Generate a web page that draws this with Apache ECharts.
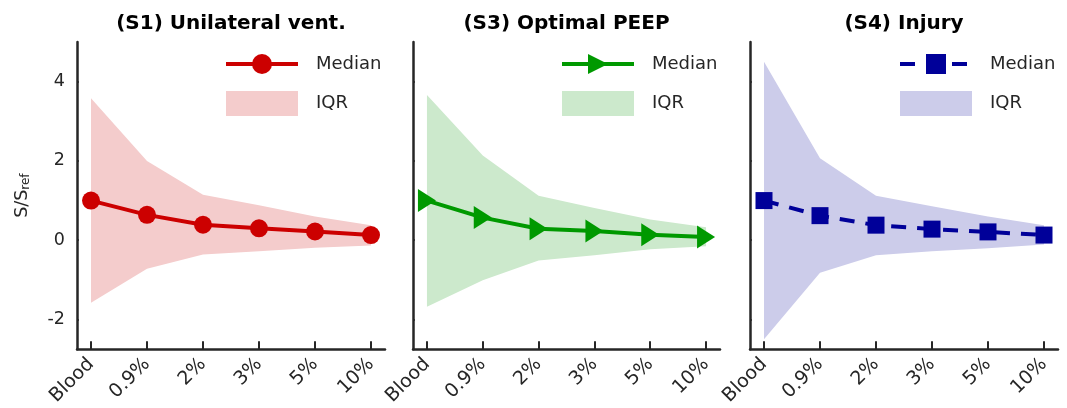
<!DOCTYPE html>
<html>
<head>
<meta charset="utf-8">
<script src="https://cdn.jsdelivr.net/npm/echarts@6/dist/echarts.min.js"></script>
<style>
html,body{margin:0;padding:0;background:#fff;}
#chart{width:1067px;height:408px;}
</style>
</head>
<body>
<div id="chart"></div>
<script>
const categories = ['Blood', '0.9%', '2%', '3%', '5%', '10%'];
const yTicks = [-2, 0, 2, 4];
const panelTitles = ['(S1) Unilateral vent.', '(S3) Optimal PEEP', '(S4) Injury'];

const s1Median = [1.0, 0.64, 0.39, 0.30, 0.22, 0.13];
const s1Upper  = [3.58, 2.00, 1.15, 0.88, 0.60, 0.38];
const s1Lower  = [-1.58, -0.72, -0.36, -0.28, -0.19, -0.13];

const s3Median = [1.0, 0.57, 0.29, 0.23, 0.14, 0.08];
const s3Upper  = [3.66, 2.14, 1.12, 0.81, 0.52, 0.33];
const s3Lower  = [-1.68, -1.01, -0.51, -0.38, -0.23, -0.15];

const s4Median = [1.0, 0.62, 0.38, 0.28, 0.21, 0.13];
const s4Upper  = [4.50, 2.07, 1.12, 0.86, 0.60, 0.38];
const s4Lower  = [-2.50, -0.82, -0.38, -0.28, -0.20, -0.11];

const FONT = 'DejaVu Sans';
const AX = '#262626';

const panels = [
  {median: s1Median, upper: s1Upper, lower: s1Lower, color: '#cc0000', band: '#f4cccc',
   symbol: 'circle', symbolSize: 18, rotate: 0, dash: 'solid', grid: {left: 77, width: 308}, legendLeft: 224},
  {median: s3Median, upper: s3Upper, lower: s3Lower, color: '#009900', band: '#cce9cc',
   symbol: 'triangle', symbolSize: [23, 18], rotate: -90, dash: 'solid', grid: {left: 413, width: 307}, legendLeft: 560},
  {median: s4Median, upper: s4Upper, lower: s4Lower, color: '#000099', band: '#ccccea',
   symbol: 'rect', symbolSize: 17, rotate: 0, dash: [15, 11], grid: {left: 750, width: 308}, legendLeft: 898}
];

const grids = [], xAxes = [], yAxes = [], series = [], legends = [], graphics = [];
panels.forEach((p, i) => {
  grids.push({left: p.grid.left, width: p.grid.width, top: 42, height: 308});
  xAxes.push({
    type: 'value', gridIndex: i, min: -0.25, max: 5.25,
    splitLine: {show: false},
    axisLine: {onZero: false, lineStyle: {color: AX, width: 2.5}},
    axisTick: {inside: true, length: 8, lineStyle: {color: AX, width: 2}, customValues: categories.map((c, k) => k)},
    axisLabel: {rotate: 45, margin: 12, fontSize: 19, fontFamily: FONT, color: AX,
      customValues: categories.map((c, k) => k),
      formatter: v => categories[Math.round(v)] || ''}
  });
  yAxes.push({
    type: 'value', gridIndex: i, min: -2.75, max: 5,
    splitLine: {show: false},
    axisLine: {show: true, onZero: false, lineStyle: {color: AX, width: 2.5}},
    axisTick: {show: true, inside: true, length: 2, lineStyle: {color: AX, width: 1.5}, customValues: yTicks},
    axisLabel: {show: i === 0, margin: 12, fontSize: 17.5, fontFamily: FONT, color: AX, customValues: yTicks},
    name: i === 0 ? 'S/S{sub|ref}' : '',
    nameLocation: 'middle', nameGap: 45,
    nameTextStyle: {fontSize: 17.5, fontFamily: FONT, color: AX,
      rich: {sub: {fontSize: 12, fontFamily: FONT, color: AX, verticalAlign: 'bottom', padding: [8, 0, 0, 0]}}}
  });
  series.push({
    name: 'IQR#' + i, type: 'custom', xAxisIndex: i, yAxisIndex: i,
    silent: true, z: 1,
    itemStyle: {color: p.band},
    data: [[0, 0]],
    renderItem: (params, api) => {
      const top = p.upper.map((v, k) => api.coord([k, v]));
      const bot = p.lower.map((v, k) => api.coord([k, v])).reverse();
      return {type: 'polygon', shape: {points: top.concat(bot)}, style: {fill: p.band}};
    }
  });
  series.push({
    name: 'Median#' + i, type: 'line', xAxisIndex: i, yAxisIndex: i,
    symbol: p.symbol, symbolSize: p.symbolSize, symbolRotate: p.rotate,
    showAllSymbol: true,
    itemStyle: {color: p.color},
    lineStyle: {color: p.color, width: 4, type: p.dash},
    data: p.median.map((v, k) => [k, v]), z: 3
  });
  legends.push({
    orient: 'vertical', left: p.legendLeft, top: 54, padding: 0,
    itemWidth: 72, itemHeight: 25, itemGap: 17,
    selectedMode: false,
    lineStyle: {width: 4},
    textStyle: {fontSize: 18, fontFamily: FONT, color: AX, padding: [0, 0, 0, 13]},
    formatter: n => n.split('#')[0],
    data: [
      {name: 'Median#' + i},
      {name: 'IQR#' + i, icon: 'rect', itemStyle: {color: p.band, borderWidth: 0}}
    ]
  });
  graphics.push({
    type: 'text', x: p.grid.left + p.grid.width / 2, y: 24,
    style: {text: panelTitles[i], font: 'bold 20px "DejaVu Sans"', fill: '#000',
      textAlign: 'center', textVerticalAlign: 'middle'}
  });
});

const chart = echarts.init(document.getElementById('chart'), null, {renderer: 'canvas'});
chart.setOption({
  animation: false,
  backgroundColor: '#fff',
  grid: grids, xAxis: xAxes, yAxis: yAxes, series: series, legend: legends,
  graphic: graphics
});
</script>
</body>
</html>
